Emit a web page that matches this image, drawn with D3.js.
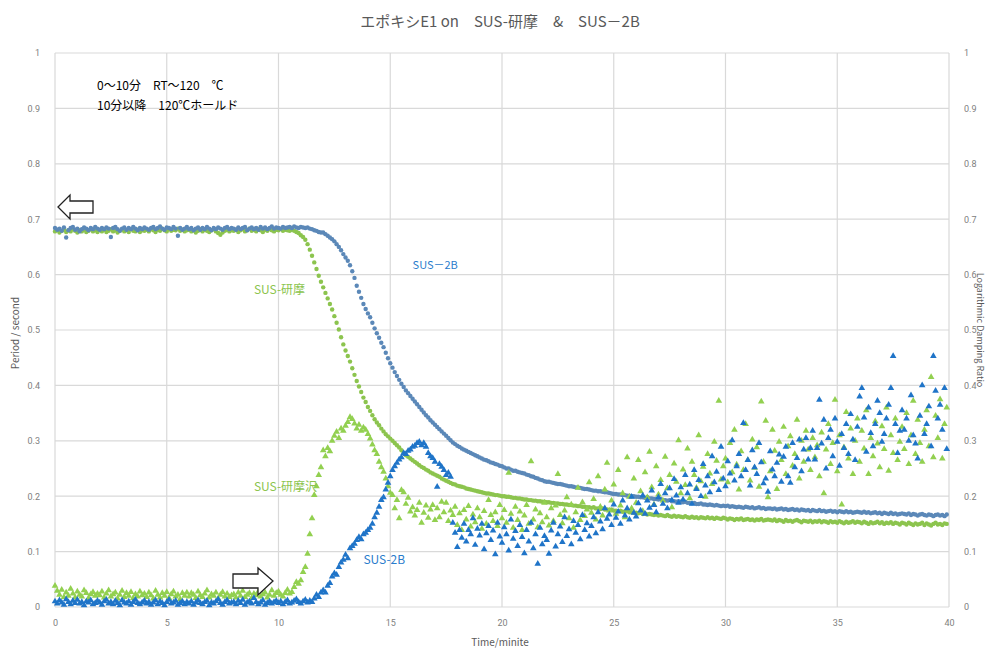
<!DOCTYPE html>
<html>
<head>
<meta charset="utf-8">
<script src="https://cdn.jsdelivr.net/npm/d3@7"></script>
<style>
  body { margin: 0; background: #fff; }
  svg { display: block; font-family: "Noto Sans CJK JP", "Noto Sans", sans-serif; }
</style>
</head>
<body>
<svg id="chart" width="988" height="650"></svg>
<script>
// sampling interval of the logger, minutes
const SAMPLE_MIN = 0.1;

// all readings below are in thousandths (period: s, damping: ratio)
// period, SUS-2B
const periodSus2B = [
  684,681,683,679,685,667,680,684,686,681,683,678,682,685,683,680,684,682,686,683,
  681,684,682,685,683,668,684,686,682,679,683,685,681,684,682,686,683,680,684,682,
  685,683,681,684,686,682,684,687,683,681,685,684,682,686,683,670,684,681,683,686,
  682,684,680,683,685,681,684,682,686,683,680,684,682,685,683,681,684,686,682,684,
  683,681,685,682,684,686,680,683,685,682,684,681,686,683,685,682,684,687,683,685,
  684,683,686,684,685,686,684,687,685,684,686,685,684,685,683,682,680,679,677,676,
  676,673,670,667,664,660,655,650,644,637,631,625,617,606,594,580,569,558,547,538,
  530,523,513,503,494,486,477,469,459,449,440,432,424,417,410,403,397,391,386,381,
  376,371,366,361,356,351,346,342,337,333,329,325,321,317,313,309,305,301,297,294,
  291,289,286,284,282,280,278,276,274,272,270,268,266,265,263,261,260,258,257,255,
  254,252,250,250,248,246,246,244,243,242,241,239,238,236,235,233,232,230,229,227,
  226,226,225,224,223,222,222,221,220,219,218,218,217,216,216,215,214,213,213,212,
  211,210,210,209,209,208,207,207,206,205,204,204,203,203,202,202,201,201,200,200,
  199,199,198,198,197,198,196,196,195,195,194,195,193,193,192,193,191,191,190,191,
  190,189,190,188,188,187,188,186,186,187,185,185,184,185,184,183,184,183,182,183,
  182,183,181,182,181,180,181,180,179,181,180,179,180,178,179,180,178,179,177,178,
  178,177,178,176,177,178,176,177,175,176,177,175,176,174,176,175,174,175,173,175,
  174,173,175,173,174,172,173,174,172,173,171,173,172,171,173,171,172,170,171,172,
  171,170,172,170,171,169,170,171,169,170,168,170,169,168,170,168,169,167,168,169,
  168,167,169,166,168,167,165,167,168,166,165,167,166,164,166,167,165,166,164,167
];

// period, SUS-研摩
const periodSusPolished = [
  678,680,676,679,681,677,680,678,682,679,676,680,678,681,677,679,682,678,680,677,
  680,678,681,677,679,682,678,680,676,679,681,678,680,677,682,679,678,681,677,680,
  679,681,678,682,680,677,681,679,683,680,678,682,679,681,680,683,679,681,678,680,
  681,678,680,676,679,682,678,681,679,677,680,682,678,675,672,676,679,681,678,680,
  679,681,677,680,682,678,680,683,679,681,678,682,680,677,681,679,682,680,678,681,
  680,682,679,681,680,679,681,679,677,675,671,668,663,655,645,634,622,610,598,587,
  577,567,557,547,537,525,513,501,487,474,463,453,443,431,419,408,398,388,378,370,
  361,354,346,339,333,328,322,317,312,308,304,300,296,292,288,283,278,274,271,268,
  265,262,259,256,253,251,248,246,243,241,239,237,235,232,230,228,226,224,222,221,
  219,218,217,216,214,213,212,211,210,209,208,207,206,205,205,204,203,202,202,201,
  200,200,199,199,198,197,197,196,196,195,194,194,193,193,192,192,191,191,190,190,
  189,189,188,188,187,187,186,186,185,185,184,184,183,183,182,182,181,181,180,180,
  179,180,178,178,177,178,176,176,175,176,174,174,173,174,172,172,173,171,171,170,
  170,169,170,168,169,167,168,167,166,167,165,166,165,164,166,164,163,165,163,164,
  163,162,164,162,161,163,161,162,160,162,161,160,162,160,161,159,161,160,159,161,
  160,158,160,159,157,159,158,160,157,158,159,157,158,156,158,157,159,156,157,158,
  157,156,158,155,157,156,154,157,155,156,154,156,157,155,153,156,155,154,156,153,
  155,154,156,153,155,154,152,155,153,154,152,155,153,151,154,152,153,155,152,154,
  153,151,154,152,150,153,151,152,154,151,153,150,152,151,153,150,152,151,149,152,
  151,149,152,150,148,151,149,150,152,148,151,149,147,150,152,149,150,148,151,150
];

// damping ratio, SUS-2B (right axis)
const dampSus2B = [
  10,6,12,8,4,14,9,5,11,7,13,6,9,3,10,8,12,5,7,11,
  8,4,10,13,6,9,5,11,7,3,12,8,6,10,4,9,13,7,5,8,
  11,6,9,4,8,12,5,10,7,3,9,13,6,8,11,4,7,10,5,9,
  6,10,4,8,12,7,5,9,11,3,8,6,10,14,7,4,9,12,6,8,
  9,5,11,7,13,4,8,10,6,16,9,5,8,12,4,7,10,6,9,11,
  7,10,5,9,12,6,8,11,14,9,6,10,13,8,11,9,15,22,18,26,
  30,26,38,43,55,61,58,72,80,85,94,88,106,110,114,121,126,122,131,134,
  139,143,150,162,170,181,193,198,212,224,236,247,254,260,266,270,278,276,282,284,
  289,291,296,298,292,296,289,278,272,269,262,217,258,253,247,238,242,235,152,134,
  108,139,125,150,118,139,131,160,112,141,129,150,104,133,146,121,138,95,152,127,
  116,144,131,102,158,123,137,110,148,126,97,139,118,152,106,131,78,143,113,128,
  121,96,138,152,109,131,145,117,162,128,140,113,155,134,148,122,166,139,151,127,
  146,162,133,171,154,140,178,159,167,148,185,161,172,150,192,165,178,158,199,170,
  163,187,174,201,168,192,179,210,184,171,198,222,186,205,178,214,193,231,201,188,
  216,194,238,205,221,186,247,213,229,200,258,219,236,207,272,225,244,211,289,232,
  218,263,241,301,228,254,276,236,332,247,265,219,283,252,240,296,261,223,232,208,
  281,248,236,260,275,226,271,289,236,224,296,252,269,302,245,284,305,266,287,318,
  266,287,374,295,338,250,305,320,272,340,298,255,312,287,330,276,348,302,265,325,
  380,395,342,280,360,314,290,330,372,350,298,312,340,365,395,453,330,278,318,355,
  320,340,300,382,310,295,268,345,400,312,330,362,290,453,390,340,365,320,395,285
];

// damping ratio, SUS-研摩 (right axis)
const dampSusPolished = [
  38,29,22,31,18,26,20,33,24,17,28,22,19,30,25,16,23,27,20,24,
  21,28,17,24,30,19,23,26,15,22,29,18,25,20,27,16,23,19,28,21,
  24,18,26,21,15,29,22,17,25,20,27,16,23,28,19,22,14,25,20,26,
  19,25,22,16,28,21,18,24,30,17,23,20,26,15,22,27,19,24,18,21,
  23,17,26,20,29,18,22,25,16,24,21,28,19,23,26,17,22,30,20,25,
  28,22,19,25,31,24,27,36,45,42,48,63,72,96,131,160,202,218,238,252,
  283,272,287,281,300,309,316,305,322,318,327,334,343,339,331,322,329,318,324,320,
  312,304,293,283,276,262,252,244,232,218,206,202,178,193,160,211,207,186,197,172,
  180,165,175,188,152,170,183,161,176,184,157,178,162,190,171,188,155,174,166,181,
  148,169,139,175,158,182,145,167,153,178,162,141,173,150,193,166,155,171,146,184,
  160,175,152,242,168,143,181,157,172,139,165,184,150,263,158,176,144,169,153,188,
  162,147,178,155,183,240,166,151,174,198,160,185,143,171,215,157,189,164,176,225,
  170,195,158,236,181,165,212,260,174,192,221,168,247,183,205,162,270,199,178,232,
  188,265,209,173,243,198,280,216,185,254,203,229,192,271,214,238,180,259,226,301,
  205,248,220,286,196,262,238,215,310,227,253,199,276,241,222,298,264,372,230,254,
  268,225,296,243,320,257,212,281,247,330,265,228,302,251,288,217,371,262,336,198,
  245,320,282,213,298,265,325,240,290,308,255,276,338,232,300,262,318,284,247,305,
  270,292,236,315,205,284,330,258,296,374,245,310,185,288,352,268,322,240,300,340,
  262,318,286,355,240,305,272,335,295,252,326,285,360,246,310,278,340,265,298,325,
  285,350,258,310,372,276,338,296,262,320,355,290,415,270,345,305,375,268,330,360
];

const xTicks = [0, 5, 10, 15, 20, 25, 30, 35, 40];
const yTicks = [0, 0.1, 0.2, 0.3, 0.4, 0.5, 0.6, 0.7, 0.8, 0.9, 1];

const colors = {
  periodB: '#5b88b8',
  periodA: '#8cc44e',
  dampB: '#1f74c8',
  dampA: '#92d050',
  grid: '#d9d9d9',
  tick: '#808080',
  title: '#595959'
};

const toPoints = (arr) => arr.map((v, i) => ({ t: i * SAMPLE_MIN, v: v / 1000 }));

const margin = { left: 55, right: 949, top: 53, bottom: 607 };
const svg = d3.select('#chart');

const x = d3.scaleLinear().domain([0, 40]).range([margin.left, margin.right]);
const y = d3.scaleLinear().domain([0, 1]).range([margin.bottom, margin.top]);
const y2 = d3.scaleLinear().domain([0, 1]).range([margin.bottom, margin.top]);

// grid
svg.append('g')
  .selectAll('line.h')
  .data(yTicks)
  .enter().append('line')
  .attr('x1', margin.left).attr('x2', margin.right)
  .attr('y1', (d) => y(d)).attr('y2', (d) => y(d))
  .attr('stroke', colors.grid).attr('stroke-width', 1.2);

svg.append('g')
  .selectAll('line.v')
  .data(xTicks)
  .enter().append('line')
  .attr('x1', (d) => x(d)).attr('x2', (d) => x(d))
  .attr('y1', margin.top).attr('y2', margin.bottom)
  .attr('stroke', colors.grid).attr('stroke-width', 1.2);

const fmt = (d) => (d === 0 || d === 1) ? String(d) : d3.format('.1f')(d);

const styleAxis = (g) => {
  g.select('.domain').remove();
  g.selectAll('.tick line').remove();
  g.selectAll('.tick text')
    .attr('fill', colors.tick)
    .attr('font-size', 9)
    .attr('font-family', 'Roboto, "Noto Sans", sans-serif');
};

svg.append('g')
  .attr('transform', `translate(${margin.left - 12},0)`)
  .call(d3.axisLeft(y).tickValues(yTicks).tickFormat(fmt).tickSize(0))
  .call(styleAxis);

svg.append('g')
  .attr('transform', `translate(${margin.right + 12},0)`)
  .call(d3.axisRight(y2).tickValues(yTicks).tickFormat(fmt).tickSize(0))
  .call(styleAxis);

svg.append('g')
  .attr('transform', `translate(0,${margin.bottom + 10})`)
  .call(d3.axisBottom(x).tickValues(xTicks).tickSize(0))
  .call(styleAxis);

// series
const drawCircles = (arr, color, yScale) => {
  svg.append('g')
    .selectAll('circle')
    .data(toPoints(arr))
    .enter().append('circle')
    .attr('cx', (d) => x(d.t))
    .attr('cy', (d) => yScale(d.v))
    .attr('r', 2.2)
    .attr('fill', color);
};

const tri = d3.symbol().type(d3.symbolTriangle).size(19);
const drawTriangles = (arr, color, yScale) => {
  svg.append('g')
    .selectAll('path')
    .data(toPoints(arr))
    .enter().append('path')
    .attr('d', tri)
    .attr('transform', (d) => `translate(${x(d.t)},${yScale(d.v)})`)
    .attr('fill', color);
};

drawCircles(periodSusPolished, colors.periodA, y);
drawCircles(periodSus2B, colors.periodB, y);
drawTriangles(dampSusPolished, colors.dampA, y2);
drawTriangles(dampSus2B, colors.dampB, y2);

// titles
svg.append('text')
  .attr('x', 500).attr('y', 27)
  .attr('text-anchor', 'middle')
  .attr('font-size', 15)
  .attr('fill', colors.title)
  .text('エポキシE1 on　SUS-研摩　&　SUS－2B');

svg.append('text')
  .attr('x', 500).attr('y', 646)
  .attr('text-anchor', 'middle')
  .attr('font-size', 10)
  .attr('fill', colors.title)
  .text('Time/minite');

svg.append('text')
  .attr('transform', 'translate(19,333) rotate(-90)')
  .attr('text-anchor', 'middle')
  .attr('font-size', 10)
  .attr('fill', colors.title)
  .text('Period / second');

svg.append('text')
  .attr('transform', 'translate(977,330) rotate(90)')
  .attr('text-anchor', 'middle')
  .attr('font-size', 9)
  .attr('fill', colors.title)
  .text('Logarithmic Damping Ratio');

// heating note
const note = svg.append('g').attr('font-size', 12).attr('fill', '#000');
note.append('text').attr('x', 97).attr('y', 90).text('0～10分　RT～120　℃');
note.append('text').attr('x', 97).attr('y', 110).text('10分以降　120℃ホールド');

// series labels
const labels = [
  { text: 'SUS－2B', x: 16, v: 0.61, color: '#2a7ccc', size: 11 },
  { text: 'SUS-研摩', x: 8.9, v: 0.565, color: '#8cc44e', size: 12 },
  { text: 'SUS-研摩沢', x: 8.9, v: 0.21, color: '#8cc44e', size: 12 },
  { text: 'SUS-2B', x: 13.8, v: 0.078, color: '#2a7ccc', size: 12 }
];
svg.append('g')
  .selectAll('text')
  .data(labels)
  .enter().append('text')
  .attr('x', (d) => x(d.x))
  .attr('y', (d) => y(d.v))
  .attr('font-size', (d) => d.size)
  .attr('fill', (d) => d.color)
  .text((d) => d.text);

// outline arrows pointing at the left axis and at the 10 min mark
svg.append('path')
  .attr('d', 'M58,207 L70,195 L70,201 L93,201 L93,213 L70,213 L70,219 Z')
  .attr('fill', '#fff').attr('stroke', '#222').attr('stroke-width', 1.3);

svg.append('path')
  .attr('d', 'M233,574 L258,574 L258,568 L273,581 L258,595 L258,588 L233,588 Z')
  .attr('fill', '#fff').attr('stroke', '#222').attr('stroke-width', 1.3);
</script>
</body>
</html>
